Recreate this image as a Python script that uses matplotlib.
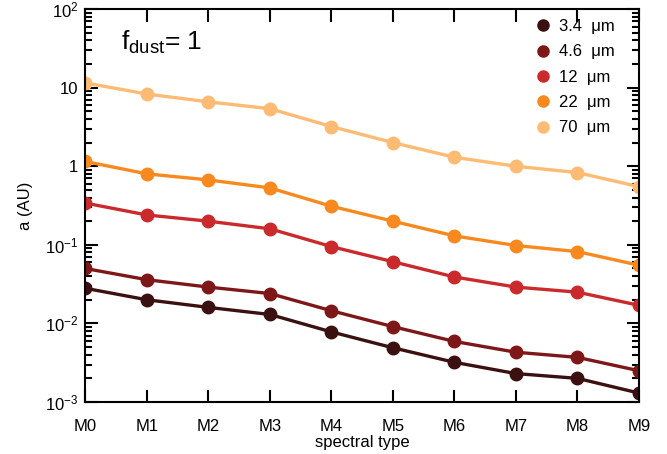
import matplotlib
matplotlib.use("Agg")
import matplotlib.pyplot as plt
from matplotlib.ticker import LogLocator, FixedLocator, NullFormatter

# Data
spectral_types = ['M0', 'M1', 'M2', 'M3', 'M4', 'M5', 'M6', 'M7', 'M8', 'M9']
a_3p4 = [0.028, 0.020, 0.016, 0.013, 0.0078, 0.0049, 0.0032, 0.0023, 0.0020, 0.0013]
a_4p6 = [0.050, 0.036, 0.029, 0.024, 0.0145, 0.0091, 0.0059, 0.0043, 0.0037, 0.0025]
a_12 = [0.34, 0.24, 0.20, 0.16, 0.095, 0.061, 0.039, 0.029, 0.025, 0.017]
a_22 = [1.15, 0.80, 0.67, 0.53, 0.31, 0.20, 0.13, 0.098, 0.082, 0.055]
a_70 = [11.5, 8.3, 6.6, 5.4, 3.2, 2.0, 1.3, 1.0, 0.83, 0.55]

series = [a_3p4, a_4p6, a_12, a_22, a_70]
labels = ['3.4  μm', '4.6  μm', '12  μm', '22  μm', '70  μm']
colors = ['#3b1011', '#7e1718', '#ca2a2b', '#f7891f', '#fdbb74']

plt.rcParams['font.family'] = ['Liberation Sans', 'DejaVu Sans']
plt.rcParams['mathtext.fontset'] = 'custom'
plt.rcParams['mathtext.rm'] = 'Liberation Sans'
plt.rcParams['mathtext.it'] = 'Liberation Sans'
plt.rcParams['mathtext.default'] = 'rm'

fig = plt.figure(figsize=(6.67, 4.54), dpi=100)
ax = fig.add_axes([0.128, 0.1145, 0.830, 0.8655])

x = list(range(len(spectral_types)))
for vals, lab, c in zip(series, labels, colors):
    ax.plot(x, vals, color=c, lw=2.4, marker='o', ms=9, label=lab)

ax.set_yscale('log')
ax.set_ylim(1e-3, 1e2)
ax.set_xlim(0, 9)
ax.set_xticks(x)
ax.set_xticklabels(spectral_types)
ax.yaxis.set_major_locator(FixedLocator([1e-3, 1e-2, 1e-1, 1, 10, 100]))
ax.set_yticklabels([r'$10^{-3}$', r'$10^{-2}$', r'$10^{-1}$', '1', '10', r'$10^{2}$'])
ax.yaxis.set_minor_locator(LogLocator(base=10, subs=range(2, 10), numticks=20))
ax.yaxis.set_minor_formatter(NullFormatter())

ax.tick_params(which='both', direction='in', top=True, right=True,
               labelsize=12, width=1.5)
ax.tick_params(axis='x', which='major', length=9, pad=12)
ax.tick_params(axis='y', which='major', length=9, pad=5)
ax.tick_params(which='minor', length=5)
for s in ax.spines.values():
    s.set_linewidth(1.5)

ax.set_xlabel('spectral type', fontsize=12, labelpad=1)
ax.set_ylabel('a (AU)', fontsize=12, labelpad=9)

ax.text(0.065, 0.95, r'f$_{\rm dust}$= 1', transform=ax.transAxes,
        fontsize=19, va='top', ha='left')

leg = ax.legend(loc='upper right', frameon=False, fontsize=12,
                handlelength=0.6, handletextpad=0.7, labelspacing=0.62,
                borderaxespad=0.2, bbox_to_anchor=(0.975, 1.0))
for h in leg.legend_handles:
    h.set_linestyle('none')
    h.set_markersize(8)

fig.savefig('out.png', dpi=100)
